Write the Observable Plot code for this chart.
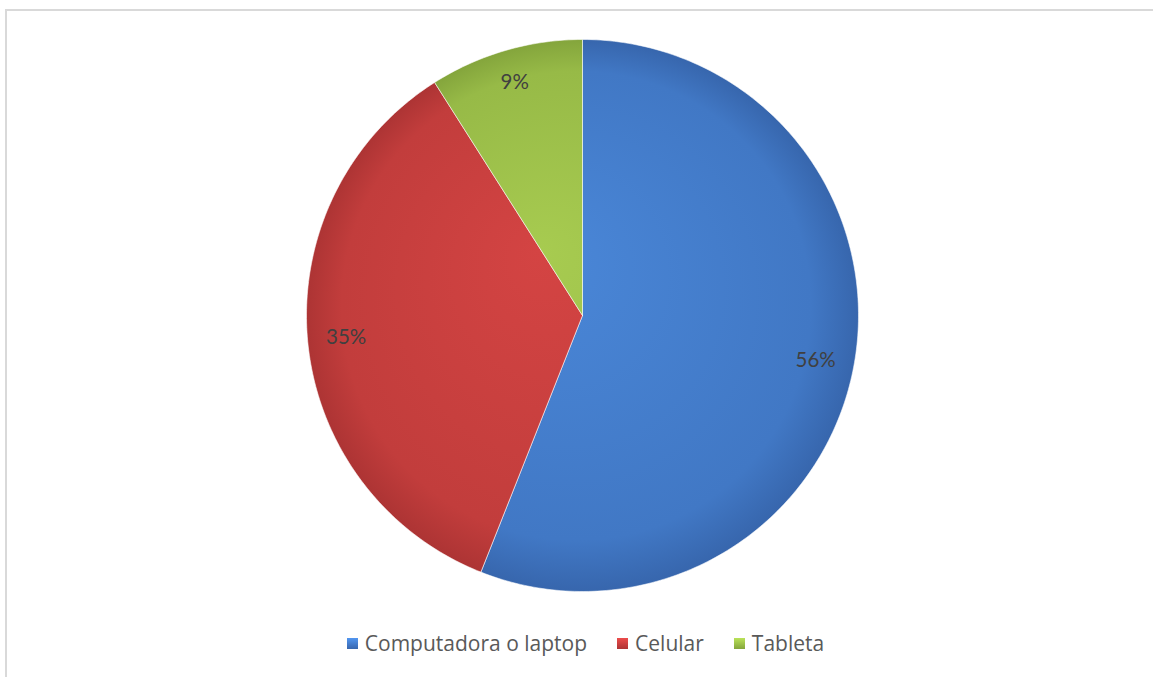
<!DOCTYPE html>
<html><head><meta charset="utf-8">
<script src="https://cdn.jsdelivr.net/npm/d3@7"></script>
<script src="https://cdn.jsdelivr.net/npm/@observablehq/plot@0.6"></script>
<style>
body{margin:0;background:#fff;}
#wrap{position:relative;width:1153px;height:677px;overflow:hidden;font-family:Lato,"Open Sans",sans-serif;}
#bl{position:absolute;left:5px;top:9px;width:2px;height:668px;background:#d9d9d9;}
#bt{position:absolute;left:5px;top:9px;width:1148px;height:2px;background:#d9d9d9;}
#chart{position:absolute;left:0;top:0;}
#legend{position:absolute;left:9px;top:629px;width:1153px;display:flex;justify-content:center;align-items:center;font-family:"Open Sans",sans-serif;font-size:21px;color:#595959;}
#legend span.item{display:inline-flex;align-items:center;margin:0 15px;}
#legend span.sw{display:inline-block;width:11px;height:11px;margin-right:7px;}
</style></head>
<body><div id="wrap"><div id="bl"></div><div id="bt"></div><div id="chart"></div><div id="legend"></div></div>
<script>
const categories = ["Computadora o laptop", "Celular", "Tableta"];
const values = [56, 35, 9];
const labels = ["56%", "35%", "9%"];
const colors = ["#4a87d8", "#d44443", "#a7cb50"];
const darks = ["#3766ad", "#ad3434", "#84a53c"];
const ids = ["gBlue", "gRed", "gGreen"];

const total = d3.sum(values);
let acc = 0;
const slices = categories.map((c, i) => {
  const a0 = acc / total * 2 * Math.PI;
  acc += values[i];
  const a1 = acc / total * 2 * Math.PI;
  return {cat: c, a0, a1, i};
});
const pts = [];
for (const s of slices) {
  pts.push({cat: s.cat, x: 0, y: 0});
  const n = Math.max(8, Math.ceil((s.a1 - s.a0) * 60));
  for (let k = 0; k <= n; k++) {
    const a = s.a0 + (s.a1 - s.a0) * k / n;
    pts.push({cat: s.cat, x: Math.sin(a), y: Math.cos(a)});
  }
  pts.push({cat: s.cat, x: 0, y: 0});
}
const labelPts = slices.map(s => {
  const m = (s.a0 + s.a1) / 2;
  const r = s.i === 2 ? 0.88 : 0.86;
  return {x: r * Math.sin(m), y: r * Math.cos(m), t: labels[s.i]};
});
const fillOf = {};
categories.forEach((c, i) => fillOf[c] = `url(#${ids[i]})`);

const plot = Plot.plot({
  width: 1153, height: 628,
  margin: 0,
  x: {domain: [-1, 1], range: [306, 858], axis: null},
  y: {domain: [-1, 1], range: [591, 39], axis: null},
  marks: [
    Plot.line(pts, {x: "x", y: "y", z: "cat", fill: d => fillOf[d.cat], stroke: "rgba(255,255,255,0.55)", strokeWidth: 1, curve: "linear"}),
    Plot.text(labelPts, {x: "x", y: "y", text: "t", fontSize: 20.5, fill: "#404040", fontFamily: "Lato, 'Open Sans', sans-serif"})
  ]
});
const svg = d3.select(plot);
const defs = svg.insert("defs", ":first-child");
ids.forEach((id, i) => {
  const g = defs.append("radialGradient").attr("id", id).attr("gradientUnits", "userSpaceOnUse")
    .attr("cx", 582).attr("cy", 315).attr("r", 276).attr("fx", 540).attr("fy", 250);
  g.append("stop").attr("offset", "0%").attr("stop-color", colors[i]);
  g.append("stop").attr("offset", "85%").attr("stop-color", d3.interpolateRgb(colors[i], darks[i])(0.45));
  g.append("stop").attr("offset", "100%").attr("stop-color", darks[i]);
});
document.getElementById("chart").appendChild(plot);

const leg = d3.select("#legend");
categories.forEach((c, i) => {
  const it = leg.append("span").attr("class", "item");
  it.append("span").attr("class", "sw").style("background", `linear-gradient(${d3.color(colors[i]).brighter(0.3)}, ${darks[i]})`);
  it.append("span").text(c);
});
</script></body></html>
